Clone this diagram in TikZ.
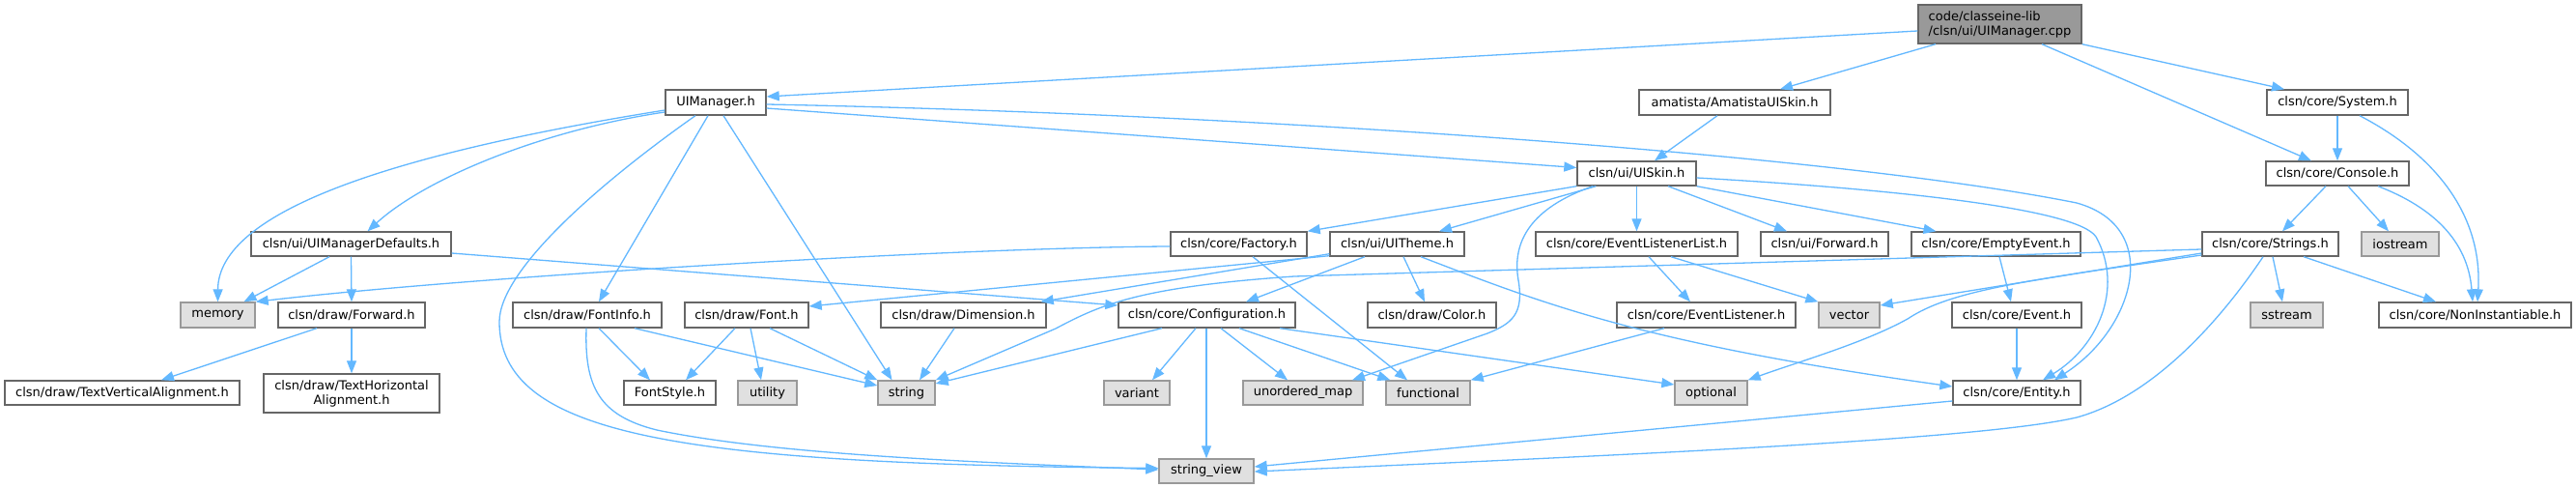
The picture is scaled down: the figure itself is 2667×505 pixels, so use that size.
\documentclass[tikz,border=0pt]{standalone}
\usepackage{fontspec}
\setmainfont{DejaVu Sans}
\usetikzlibrary{arrows.meta}
\definecolor{edgec}{HTML}{63B8FF}
\definecolor{bordw}{HTML}{666666}
\definecolor{bordg}{HTML}{999999}
\definecolor{fillg}{HTML}{E0E0E0}
\definecolor{fillr}{HTML}{999999}
\begin{document}
\begin{tikzpicture}[x=1pt,y=-1pt,
  wbox/.style={draw=bordw, fill=white, line width=1.4pt, inner sep=0pt, text=black, font=\fontsize{13pt}{15pt}\selectfont},
  gbox/.style={wbox, draw=bordg, fill=fillg},
  rbox/.style={wbox, fill=fillr},
  edge/.style={draw=edgec, line width=1.3pt, -{Triangle[length=13pt,width=10pt]}}]
\useasboundingbox[fill=white] (0,0) rectangle (2667,505);
% nodes
\node[rbox, minimum width=169pt, minimum height=40pt, align=left] (root) at (2070.5,25) {code/classeine-lib\\/clsn/ui/UIManager.cpp};
\node[wbox, minimum width=104pt, minimum height=26pt] (uim) at (741,106) {UIManager.h};
\node[wbox, minimum width=198pt, minimum height=26pt] (ama) at (1796,106) {amatista/AmatistaUISkin.h};
\node[wbox, minimum width=146pt, minimum height=26pt] (sys) at (2420,106) {clsn/core/System.h};
\node[wbox, minimum width=123pt, minimum height=25pt] (skin) at (1694.5,179.5) {clsn/ui/UISkin.h};
\node[wbox, minimum width=148pt, minimum height=25pt] (con) at (2420,179.5) {clsn/core/Console.h};
\node[wbox, minimum width=207pt, minimum height=25pt] (uimd) at (363.5,252.5) {clsn/ui/UIManagerDefaults.h};
\node[wbox, minimum width=141pt, minimum height=25pt] (fac) at (1282.5,252.5) {clsn/core/Factory.h};
\node[wbox, minimum width=139pt, minimum height=25pt] (thm) at (1446.5,252.5) {clsn/ui/UITheme.h};
\node[wbox, minimum width=209pt, minimum height=25pt] (ell) at (1694.5,252.5) {clsn/core/EventListenerList.h};
\node[wbox, minimum width=132pt, minimum height=25pt] (fwdui) at (1889,252.5) {clsn/ui/Forward.h};
\node[wbox, minimum width=175pt, minimum height=25pt] (empty) at (2066.5,252.5) {clsn/core/EmptyEvent.h};
\node[wbox, minimum width=141pt, minimum height=25pt] (str) at (2350.5,252.5) {clsn/core/Strings.h};
\node[gbox, minimum width=80pt, minimum height=25pt] (ios) at (2485,252.5) {iostream};
\node[gbox, minimum width=77pt, minimum height=26pt] (mem) at (225.5,326) {memory};
\node[wbox, minimum width=152pt, minimum height=26pt] (fwdd) at (364,326) {clsn/draw/Forward.h};
\node[wbox, minimum width=154pt, minimum height=26pt] (finfo) at (608,326) {clsn/draw/FontInfo.h};
\node[wbox, minimum width=128pt, minimum height=26pt] (font) at (773,326) {clsn/draw/Font.h};
\node[wbox, minimum width=171pt, minimum height=26pt] (dim) at (997.5,326) {clsn/draw/Dimension.h};
\node[wbox, minimum width=183pt, minimum height=26pt] (conf) at (1249.5,326) {clsn/core/Configuration.h};
\node[wbox, minimum width=133pt, minimum height=26pt] (color) at (1482.5,326) {clsn/draw/Color.h};
\node[wbox, minimum width=185pt, minimum height=26pt] (el) at (1766.5,326) {clsn/core/EventListener.h};
\node[gbox, minimum width=63pt, minimum height=26pt] (vec) at (1914.5,326) {vector};
\node[wbox, minimum width=134pt, minimum height=26pt] (event) at (2088,326) {clsn/core/Event.h};
\node[gbox, minimum width=75pt, minimum height=26pt] (sst) at (2367.5,326) {sstream};
\node[wbox, minimum width=199pt, minimum height=26pt] (noni) at (2562.5,326) {clsn/core/NonInstantiable.h};
\node[wbox, minimum width=243pt, minimum height=25pt] (tva) at (126.5,406.5) {clsn/draw/TextVerticalAlignment.h};
\node[wbox, minimum width=182pt, minimum height=40pt, align=center] (tha) at (364,407) {clsn/draw/TextHorizontal\\Alignment.h};
\node[wbox, minimum width=95pt, minimum height=25pt] (fst) at (693.5,406.5) {FontStyle.h};
\node[gbox, minimum width=61pt, minimum height=25pt] (util) at (794.5,406.5) {utility};
\node[gbox, minimum width=59pt, minimum height=25pt] (string) at (938.5,406.5) {string};
\node[gbox, minimum width=68pt, minimum height=25pt] (var) at (1177,406.5) {variant};
\node[gbox, minimum width=124pt, minimum height=25pt] (umap) at (1349,406.5) {unordered\_map};
\node[gbox, minimum width=87pt, minimum height=25pt] (func) at (1478.5,406.5) {functional};
\node[gbox, minimum width=75pt, minimum height=25pt] (opt) at (1771.5,406.5) {optional};
\node[wbox, minimum width=132pt, minimum height=25pt] (ent) at (2088,406.5) {clsn/core/Entity.h};
\node[gbox, minimum width=98pt, minimum height=25pt] (sv) at (1249,487.5) {string\_view};
% edges
\draw[edge] ([yshift=-7pt]root.west) -- ([yshift=6pt]uim.east);
\draw[edge] ([xshift=-66.5pt]root.south) -- ([xshift=47pt]ama.north);
\draw[edge] ([xshift=43.5pt]root.south) -- ([xshift=-27pt]con.north);
\draw[edge] (root.south east) -- ([xshift=-55pt]sys.north);
\draw[edge] ([yshift=-8pt]uim.west) .. controls (400,160) and (226,220) .. (mem.north);
\draw[edge] ([yshift=-10pt]uim.west) .. controls (560,135) and (440,185) .. ([xshift=17pt]uimd.north);
\draw[edge] ([xshift=-21pt]uim.south) .. controls (620,190) and (517,280) .. (517,333) .. controls (517,450) and (700,480) .. ([yshift=3pt]sv.west);
\draw[edge] ([xshift=-8pt]uim.south) -- ([xshift=12pt]finfo.north);
\draw[edge] ([xshift=8pt]uim.south) -- ([xshift=-15pt]string.north);
\draw[edge] ([yshift=-6pt]uim.east) -- ([yshift=6pt]skin.west);
\draw[edge] ([yshift=-2pt]uim.east) .. controls (1300,118) and (1900,160) .. (2150,210) .. controls (2240,235) and (2210,340) .. ([xshift=39pt]ent.north);
\draw[edge] ([xshift=-22.5pt]uimd.south) -- ([xshift=27pt]mem.north);
\draw[edge] (uimd.south) -- (fwdd.north);
\draw[edge] ([yshift=-9.5pt]uimd.east) -- ([yshift=10pt]conf.west);
\draw[edge] ([yshift=-2.5pt]fac.west) .. controls (1000,256) and (500,285) .. (mem.north east);
\draw[edge] ([xshift=14.5pt]fac.south) -- ([xshift=-21.5pt]func.north);
\draw[edge] (skin.south west) -- (fac.north east);
\draw[edge] ([xshift=20pt]skin.south west) -- ([xshift=43.5pt]thm.north);
\draw[edge] ([xshift=17pt]skin.south west) .. controls (1585,215) and (1565,250) .. (1572,290) .. controls (1578,325) and (1565,335) .. (1540,345) -- ([xshift=51pt]umap.north);
\draw[edge] (skin.south) -- (ell.north);
\draw[edge] ([xshift=32.5pt]skin.south) -- ([xshift=-39pt]fwdui.north);
\draw[edge] (skin.south east) -- ([xshift=-62pt]empty.north);
\draw[edge] ([yshift=-4.5pt]skin.east) .. controls (1950,195) and (2150,215) .. (2170,245) .. controls (2200,300) and (2170,360) .. ([xshift=27pt]ent.north);
\draw[edge] ([xshift=-18pt]ama.south) -- ([xshift=18.5pt]skin.north);
\draw[edge] ([yshift=1pt]thm.south west) -- ([yshift=9pt]font.east);
\draw[edge] ([yshift=3pt]thm.south west) -- ([xshift=-6pt]dim.north east);
\draw[edge] ([xshift=-33.5pt]thm.south) -- ([xshift=40.5pt]conf.north);
\draw[edge] ([xshift=6.5pt]thm.south) -- ([xshift=-7.5pt]color.north);
\draw[edge] ([xshift=24.5pt]thm.south) .. controls (1600,315) and (1700,355) .. ([yshift=6.5pt]ent.west);
\draw[edge] ([xshift=-46.5pt]conf.south) -- ([yshift=9.5pt]string.east);
\draw[edge] ([yshift=-5.5pt]str.west) -- (1340,286) .. controls (1180,297) and (1140,315) .. (1093,340) -- (string.north east);
\draw[edge] ([xshift=-11.5pt]conf.south) -- ([xshift=16pt]var.north);
\draw[edge] ([xshift=-0.5pt]conf.south) -- (sv.north);
\draw[edge] ([xshift=14.5pt]conf.south) -- ([xshift=-16pt]umap.north);
\draw[edge] ([xshift=33.5pt]conf.south) -- ([xshift=5pt]func.north west);
\draw[edge] ([xshift=75.5pt]conf.south) -- ([yshift=8.5pt]opt.west);
\draw[edge] ([xshift=12pt]finfo.south) -- ([xshift=-20.5pt]fst.north);
\draw[edge] ([xshift=49pt]finfo.south) -- ([yshift=7.5pt]string.west);
\draw[edge] ([xshift=-1pt]finfo.south) .. controls (605,400) and (620,430) .. (680,445) .. controls (800,470) and (1000,478) .. ([yshift=1.5pt]sv.west);
\draw[edge] ([xshift=-12pt]font.south) -- ([xshift=16.5pt]fst.north);
\draw[edge] ([xshift=4pt]font.south) -- ([xshift=-6.5pt]util.north);
\draw[edge] ([xshift=24pt]font.south) -- (string.north west);
\draw[edge] ([xshift=-9.5pt]dim.south) -- ([xshift=13.5pt]string.north);
\draw[edge] ([xshift=-36pt]fwdd.south) -- ([xshift=40.5pt]tva.north);
\draw[edge] (fwdd.south) -- (tha.north);
\draw[edge] ([xshift=12.5pt]ell.south) -- ([xshift=-16.5pt]el.north);
\draw[edge] ([xshift=35.5pt]ell.south) -- (vec.north west);
\draw[edge] ([xshift=-43.5pt]el.south) -- (func.north east);
\draw[edge] ([xshift=3.5pt]empty.south) -- ([xshift=-6pt]event.north);
\draw[edge] (event.south) -- (ent.north);
\draw[edge] ([yshift=-8.5pt]ent.west) -- ([yshift=4.5pt]sv.east);
\draw[edge] ([xshift=-7.5pt]str.south) .. controls (2300,330) and (2230,410) .. (2150,432) .. controls (2050,455) and (1700,470) .. ([yshift=-0.5pt]sv.east);
\draw[edge] ([yshift=-9.5pt]str.west) -- ([yshift=10pt]vec.east);
\draw[edge] ([yshift=-11.5pt]str.west) .. controls (2100,290) and (2020,300) .. (1975,330) .. controls (1930,355) and (1860,375) .. (opt.north east);
\draw[edge] ([xshift=2.5pt]str.south) -- ([xshift=-4.5pt]sst.north);
\draw[edge] ([xshift=34.5pt]str.south) -- ([xshift=-40.5pt]noni.north);
\draw[edge] ([xshift=-12pt]con.south) -- ([xshift=12.5pt]str.north);
\draw[edge] ([xshift=11pt]con.south) -- ([xshift=-12pt]ios.north);
\draw[edge] ([xshift=42pt]con.south) .. controls (2520,215) and (2555,250) .. ([xshift=-2.5pt]noni.north);
\draw[edge] (sys.south) -- (con.north);
\draw[edge] ([xshift=23pt]sys.south) .. controls (2530,165) and (2570,230) .. ([xshift=2.5pt]noni.north);
\end{tikzpicture}
\end{document}
